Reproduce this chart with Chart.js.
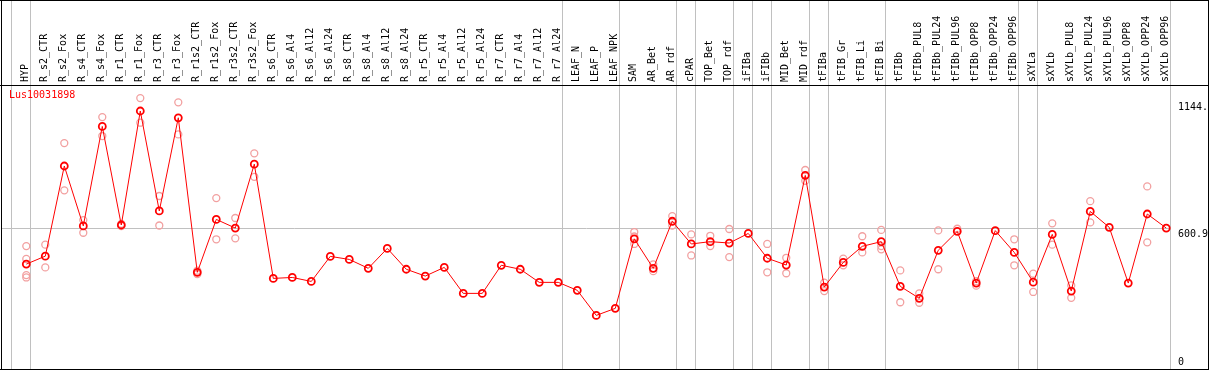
<!DOCTYPE html>
<html>
<head>
<meta charset="utf-8">
<script src="https://cdn.jsdelivr.net/npm/chart.js@4/dist/chart.umd.min.js"></script>
<style>
  body { margin: 0; background: #fff; }
  canvas { display: block; }
</style>
</head>
<body>
<canvas id="chart" width="1209" height="370"></canvas>
<script>
// Данные графика
const geneName = 'Lus10031898';

const categories = [
    'HYP', 'R_s2_CTR', 'R_s2_Fox', 'R_s4_CTR', 'R_s4_Fox', 'R_r1_CTR', 'R_r1_Fox', 'R_r3_CTR', 'R_r3_Fox',
    'R_r1s2_CTR', 'R_r1s2_Fox', 'R_r3s2_CTR', 'R_r3s2_Fox', 'R_s6_CTR', 'R_s6_Al4', 'R_s6_Al12', 'R_s6_Al24',
    'R_s8_CTR', 'R_s8_Al4', 'R_s8_Al12', 'R_s8_Al24', 'R_r5_CTR', 'R_r5_Al4', 'R_r5_Al12', 'R_r5_Al24',
    'R_r7_CTR', 'R_r7_Al4', 'R_r7_Al12', 'R_r7_Al24', 'LEAF_N', 'LEAF_P', 'LEAF_NPK', 'SAM', 'AR_Bet', 'AR_rdf',
    'cPAR', 'TOP_Bet', 'TOP_rdf', 'iFIBa', 'iFIBb', 'MID_Bet', 'MID_rdf', 'tFIBa', 'tFIB_Gr', 'tFIB_Li', 'tFIB_Bi',
    'tFIBb', 'tFIBb_PUL8', 'tFIBb_PUL24', 'tFIBb_PUL96', 'tFIBb_OPP8', 'tFIBb_OPP24', 'tFIBb_OPP96',
    'sXYLa', 'sXYLb', 'sXYLb_PUL8', 'sXYLb_PUL24', 'sXYLb_PUL96', 'sXYLb_OPP8', 'sXYLb_OPP24', 'sXYLb_OPP96'
];

// среднее по образцу
const meanValues = [
    448, 482, 867, 611, 1036, 615, 1102, 675, 1073,
    413, 639, 602, 875, 387, 391, 374, 481,
    468, 430, 515, 426, 397, 434, 323, 323,
    443, 426, 370, 370, 336, 229, 259, 556, 430, 631,
    534, 544, 538, 579, 473, 444, 827, 350, 455, 524, 544,
    353, 302, 507, 588, 367, 591, 498,
    371, 575, 333, 673, 605, 367, 662, 602
];

// повторности
const rep1 = [
    525, 531, 965, 636, 1076, 620, 1157, 739, 1139,
    420, 730, 645, 921, null, null, null, null,
    null, null, null, null, null, null, null, null,
    null, null, null, null, null, null, null, 585, 447, 653,
    575, 569, 598, null, 534, 475, 850, 369, 471, 567, 594,
    421, 323, 592, 599, 356, null, 554,
    407, 622, 357, 717, null, null, 780, null
];
const rep2 = [
    470, 434, 763, 582, 995, 610, 1052, 613, 1002,
    405, 554, 558, 821, null, null, null, null,
    null, null, null, null, null, null, null, null,
    null, null, null, null, null, null, null, 534, 418, 613,
    485, 525, 478, null, 413, 409, 804, 333, 443, 498, 525,
    285, 283, 426, null, 375, null, 443,
    329, 531, 304, 626, null, null, 541, null
];
const rep3 = [
    401, null, null, null, null, null, null, null, null,
    null, null, null, null, null, null, null, null,
    null, null, null, null, null, null, null, null,
    null, null, null, null, null, null, null, 566, null, null,
    null, null, null, null, null, null, null, null, null, null, 511,
    null, null, null, null, null, null, null,
    null, null, null, null, null, null, null, null
];
const rep4 = [
    391, null, null, null, null, null, null, null, null,
    null, null, null, null, null, null, null, null,
    null, null, null, null, null, null, null, null,
    null, null, null, null, null, null, null, null, null, null,
    null, null, null, null, null, null, null, null, null, null, null,
    null, null, null, null, null, null, null,
    null, null, null, null, null, null, null, null
];

// границы групп (после какого образца)
const groupEnds = [-1, 0, 28, 31, 34, 35, 37, 38, 39, 41, 42, 45, 52, 53, 60];

// подписи правой оси
const yTicks = [0, 600.9, 1144];
const yTickLabels = ['0', '600.9', '1144.'];
const midValue = 600.9;

const monoFont = '"DejaVu Sans Mono", monospace';

function toPoints(values) {
    return values.map((v, i) => ({ x: i, y: v }));
}

function repDataset(values) {
    return {
        data: toPoints(values),
        showLine: false,
        borderColor: '#f2a0a0',
        backgroundColor: 'rgba(0,0,0,0)',
        pointRadius: 3.5,
        pointBorderWidth: 1.3,
        order: 1
    };
}

// Рамка, разделители групп, подписи
const framePlugin = {
    id: 'frame',
    beforeDatasetsDraw(chart) {
        const c = chart.ctx;
        const xs = chart.scales.x;
        c.save();
        c.fillStyle = '#c0c0c0';
        for (let g of groupEnds) {
            const x = Math.round(xs.getPixelForValue(g + 0.22) - 0.5);
            c.fillRect(x, 0, 1, chart.height);
        }
        c.restore();
    },
    afterDraw(chart) {
        const c = chart.ctx;
        const ys = chart.scales.y;
        const area = chart.chartArea;
        c.save();
        c.fillStyle = '#000';
        c.fillRect(0, 0, chart.width, 1);
        c.fillRect(0, Math.round(area.top), chart.width, 1);
        c.fillRect(0, chart.height - 1, chart.width, 1);
        c.fillRect(1, 0, 1, chart.height);
        c.fillRect(chart.width - 1, 0, 1, chart.height);

        c.font = '10px ' + monoFont;
        c.textBaseline = 'top';
        c.textAlign = 'left';
        yTicks.forEach((v, i) => {
            const y = Math.min(ys.getPixelForValue(v) + 1, area.bottom - 12);
            c.fillText(yTickLabels[i], area.right + 7, y);
        });

        c.fillStyle = '#ff0000';
        c.textBaseline = 'alphabetic';
        c.fillText(geneName, 9, area.top + 12.5);
        c.restore();
    }
};

const ctx = document.getElementById('chart').getContext('2d');
new Chart(ctx, {
    type: 'line',
    data: {
        datasets: [
            {
                data: toPoints(meanValues),
                borderColor: '#ff0000',
                borderWidth: 1,
                backgroundColor: 'rgba(0,0,0,0)',
                pointRadius: 3.5,
                pointBorderWidth: 1.8,
                tension: 0,
                order: 0
            },
            repDataset(rep1),
            repDataset(rep2),
            repDataset(rep3),
            repDataset(rep4)
        ]
    },
    options: {
        responsive: false,
        animation: false,
        layout: { autoPadding: false, padding: { left: 2, right: 0, top: 0, bottom: 1 } },
        plugins: {
            legend: { display: false },
            tooltip: { enabled: false }
        },
        scales: {
            x: {
                type: 'linear',
                position: 'top',
                min: -1.279,
                max: 60.25,
                afterBuildTicks: s => { s.ticks = categories.map((c, i) => ({ value: i })); },
                afterFit: s => {
                    s.height = 85;
                    s.paddingLeft = 0;
                    s.paddingRight = 0;
                },
                grid: { display: false, drawTicks: false },
                border: { display: false },
                ticks: {
                    autoSkip: false,
                    minRotation: 90,
                    maxRotation: 90,
                    padding: 3,
                    labelOffset: 11,
                    color: '#000',
                    font: { family: monoFont, size: 10 },
                    callback: v => categories[v]
                }
            },
            y: {
                type: 'linear',
                position: 'right',
                min: 0,
                max: 1213,
                afterBuildTicks: s => { s.ticks = yTicks.map(v => ({ value: v })); },
                afterFit: s => { s.width = 38; },
                grid: {
                    drawTicks: false,
                    color: c => (c.tick && c.tick.value === midValue) ? '#c0c0c0' : 'rgba(0,0,0,0)'
                },
                border: { display: false },
                ticks: { display: false }
            }
        }
    },
    plugins: [framePlugin]
});
</script>
</body>
</html>
